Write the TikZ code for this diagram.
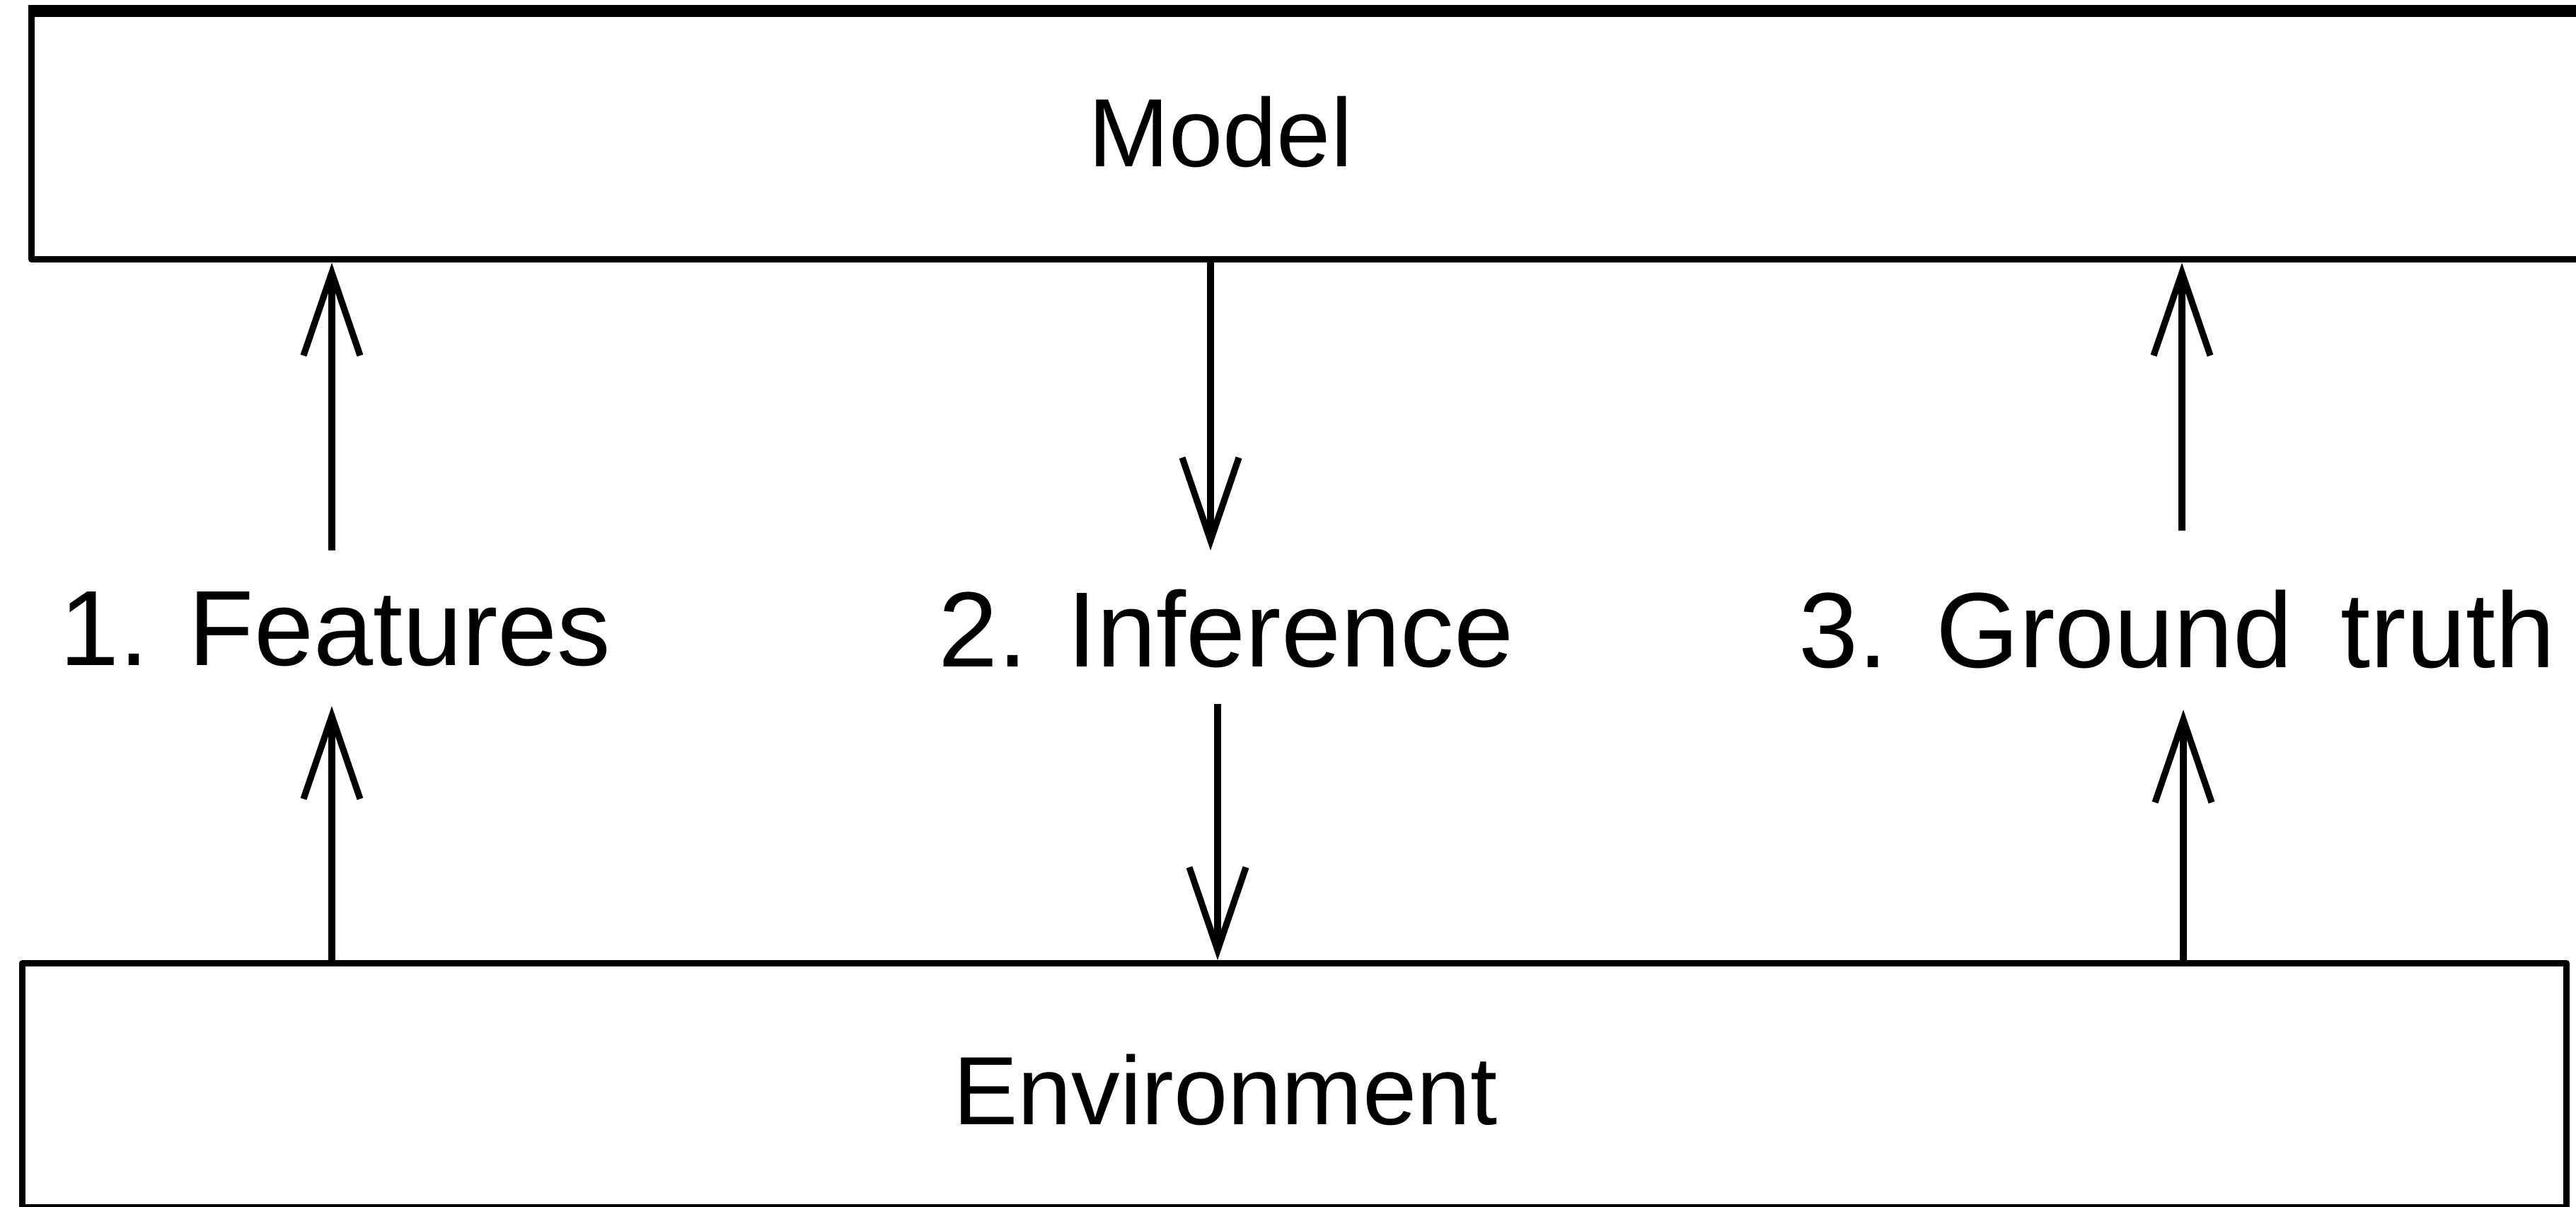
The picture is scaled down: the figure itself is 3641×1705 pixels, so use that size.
\documentclass[tikz,border=0pt]{standalone}
\usepackage{fontspec}
\setmainfont{Liberation Sans}
\usetikzlibrary{arrows.meta}
\begin{document}
\begin{tikzpicture}[x=0.01cm,y=-0.01cm,
  boxline/.style={draw=black,line width=2.6pt,line join=round},
  lbl/.style={font=\fontsize{43}{50}\selectfont,inner sep=0pt},
  boxlbl/.style={font=\fontsize{39}{46}\selectfont,inner sep=0pt},
  arr/.style={line width=2.9pt,-{Straight Barb[length=1.17cm,width=0.8cm,line width=2.6pt]}}]
\useasboundingbox (0,0) rectangle (3641,1705);
\clip (0,0) rectangle (3641,1705);
\fill[white] (0,0) rectangle (3641,1705);
% boxes
\node (modelbox) [boxline,rectangle,inner sep=0pt,minimum width=36.8cm,minimum height=3.47cm,anchor=north west] at (40,15) {};
\node (envbox) [boxline,rectangle,inner sep=0pt,minimum width=35.94cm,minimum height=3.45cm,anchor=north west] at (27,1357) {};
\draw[line width=4.3pt] (modelbox.north west) -- (modelbox.north east);
% texts
\node (model) [boxlbl] at (1725,186) {Model};
\node (env) [boxlbl] at (1732,1540) {Environment};
\node (feat) [lbl] at (474,889) {1. Features};
\node (infer) [lbl] at (1733,889) {2. Inference};
\node (truth) [lbl] at (3077,889) {3.\hspace{0.45em}Ground\hspace{0.45em}truth};
% arrow end points
\coordinate (fa) at (469,778);
\coordinate (fb) at (469,998);
\coordinate (ia) at (1711,778);
\coordinate (ib) at (1721,995);
\coordinate (ta) at (3084,750);
\coordinate (tb) at (3086,1003);
% connectors
\draw[arr] (fa) -- (fa |- modelbox.south);
\draw[arr] (fb |- envbox.north) -- (fb);
\draw[arr] (ia |- modelbox.south) -- (ia);
\draw[arr] (ib) -- (ib |- envbox.north);
\draw[arr] (ta) -- (ta |- modelbox.south);
\draw[arr] (tb |- envbox.north) -- (tb);
\end{tikzpicture}
\end{document}
